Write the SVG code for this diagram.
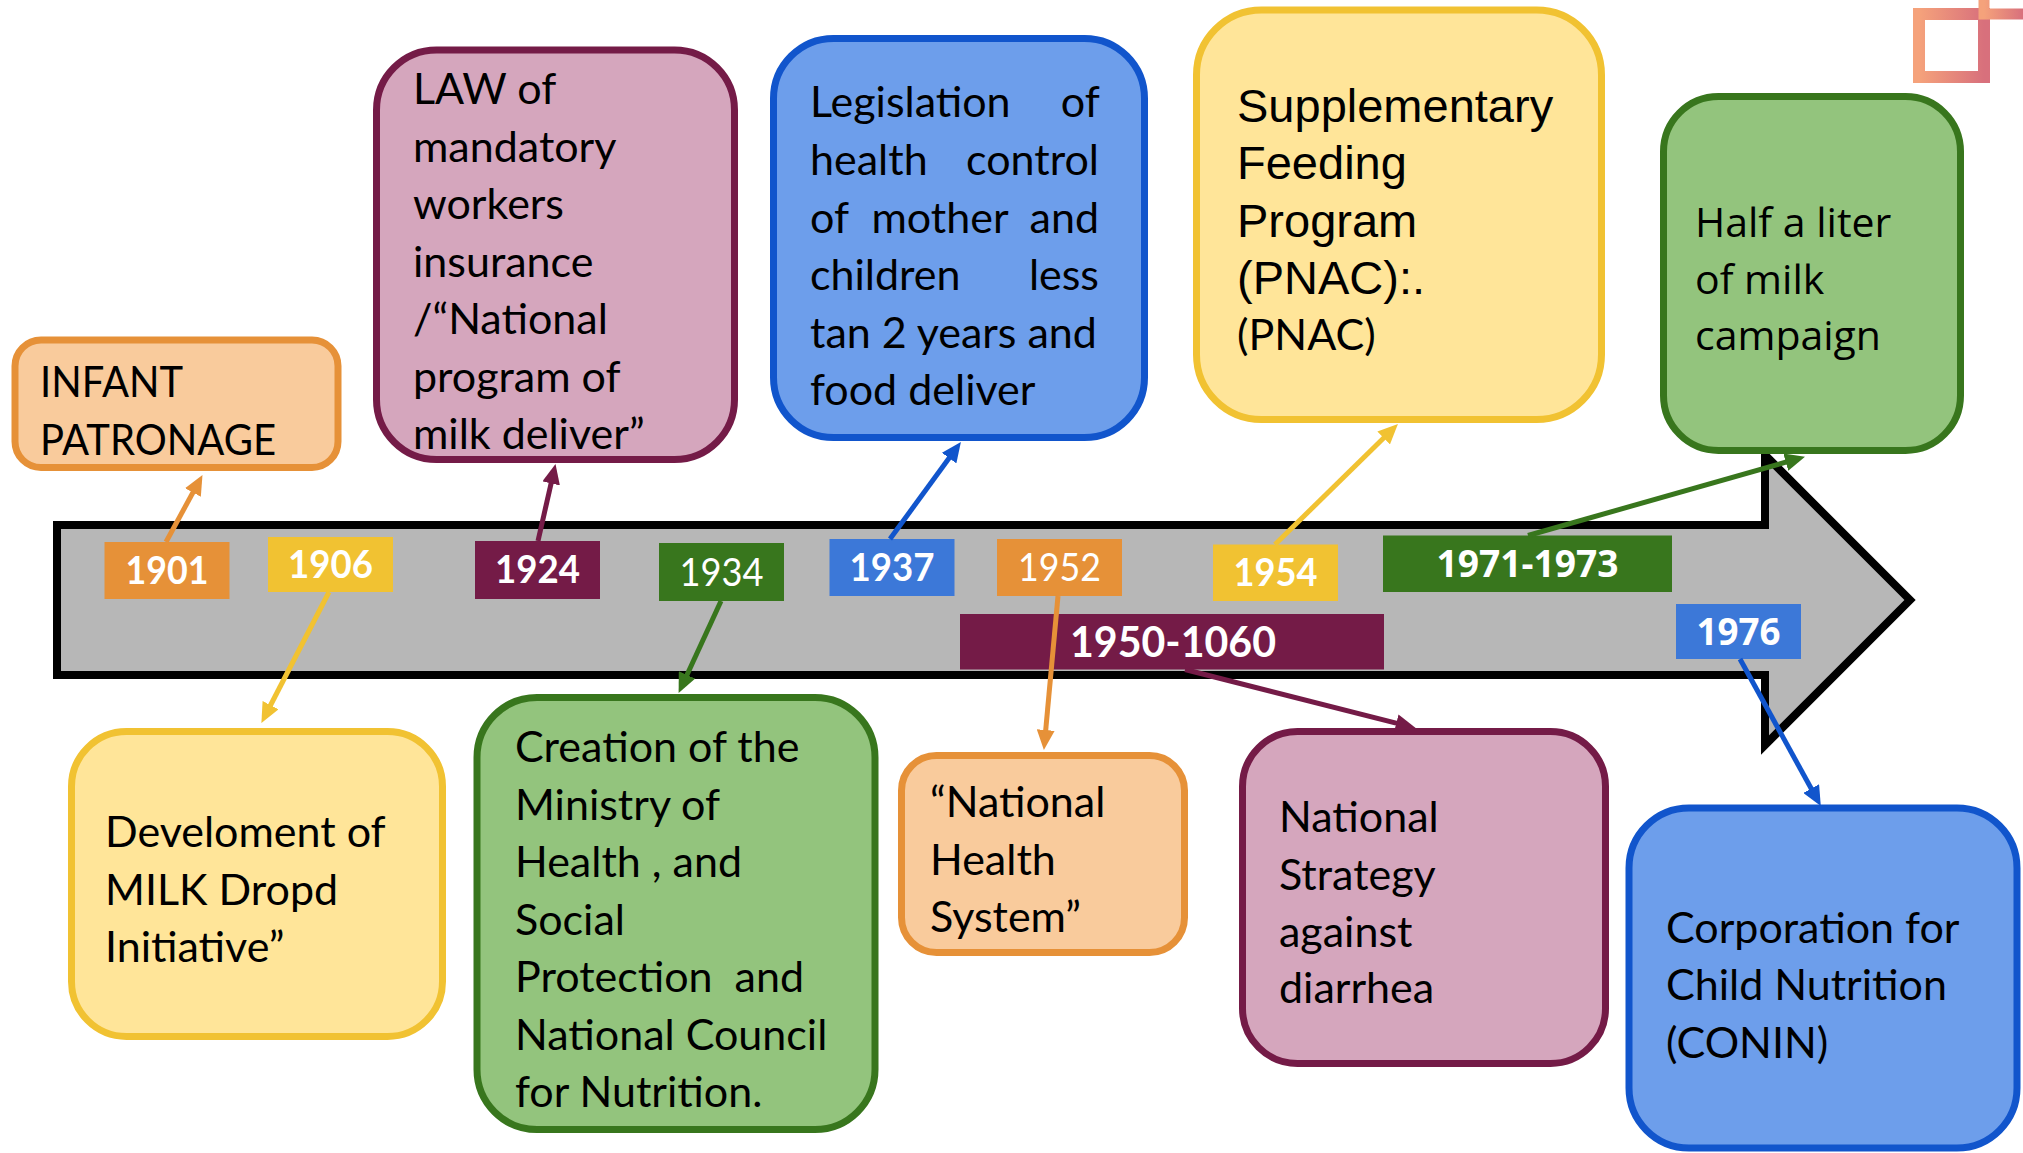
<svg xmlns="http://www.w3.org/2000/svg" width="2023" height="1153" viewBox="0 0 2023 1153">
<defs>
<style>
.box{stroke-width:7}
.t{font-family:Lato,"Open Sans","Liberation Sans",sans-serif;font-size:43px;fill:#000}
.ta{font-family:"Liberation Sans",Arial,sans-serif;font-size:47px;fill:#000}
.to{font-family:"Open Sans","Liberation Sans",sans-serif;font-size:41px;fill:#000}
.y{font-family:Lato,"Open Sans",sans-serif;font-size:38px;font-weight:bold;fill:#fff;text-anchor:middle}
.yr{font-weight:normal}
.yo{font-family:"Open Sans",Lato,sans-serif;font-size:37px;font-weight:bold;fill:#fff;text-anchor:middle}
.c{fill:none;stroke-width:5}
</style>
<linearGradient id="deco" x1="0" y1="0" x2="1" y2="0">
<stop offset="0" stop-color="#f5a27b"/>
<stop offset="1" stop-color="#d8707c"/>
</linearGradient>
<marker id="mo" markerUnits="userSpaceOnUse" markerWidth="20" markerHeight="18" viewBox="0 0 20 18" refX="10" refY="9" orient="auto"><path d="M0,0 L20,9 L0,18 z" fill="#e69138"/></marker>
<marker id="my" markerUnits="userSpaceOnUse" markerWidth="20" markerHeight="18" viewBox="0 0 20 18" refX="10" refY="9" orient="auto"><path d="M0,0 L20,9 L0,18 z" fill="#f1c232"/></marker>
<marker id="mm" markerUnits="userSpaceOnUse" markerWidth="20" markerHeight="18" viewBox="0 0 20 18" refX="10" refY="9" orient="auto"><path d="M0,0 L20,9 L0,18 z" fill="#741b47"/></marker>
<marker id="mg" markerUnits="userSpaceOnUse" markerWidth="20" markerHeight="18" viewBox="0 0 20 18" refX="10" refY="9" orient="auto"><path d="M0,0 L20,9 L0,18 z" fill="#38761d"/></marker>
<marker id="mb" markerUnits="userSpaceOnUse" markerWidth="20" markerHeight="18" viewBox="0 0 20 18" refX="10" refY="9" orient="auto"><path d="M0,0 L20,9 L0,18 z" fill="#1155cc"/></marker>
</defs>
<rect width="2023" height="1153" fill="#fff"/>

<g id="decoration" fill="none" stroke="url(#deco)">
<rect x="1919" y="14" width="65" height="63" stroke-width="12"/>
<path d="M1984,0 V14 H2023" stroke-width="11"/>
</g>

<g id="timeline">
<path d="M57,525 H1765 V455 L1910,600 L1765,745 V675 H57 Z" fill="#b7b7b7" stroke="#000" stroke-width="8" stroke-miterlimit="10"/>
</g>

<g id="n-infant">
<rect class="box" x="15" y="340" width="323" height="127.5" rx="26" fill="#f9cb9c" stroke="#e69138"/>
<text class="t"><tspan x="40" y="397" textLength="143" lengthAdjust="spacingAndGlyphs">INFANT</tspan><tspan x="40" y="455" textLength="236" lengthAdjust="spacingAndGlyphs">PATRONAGE</tspan></text>
</g>

<g id="n-law">
<rect class="box" x="376.5" y="50" width="358" height="409.5" rx="60" fill="#d5a6bd" stroke="#741b47"/>
<text class="t"><tspan x="413" y="104">LAW of</tspan><tspan x="413" y="161.5">mandatory</tspan><tspan x="413" y="219">workers</tspan><tspan x="413" y="276.5">insurance</tspan><tspan x="413" y="334">/“National</tspan><tspan x="413" y="391.5">program of</tspan><tspan x="413" y="449">milk deliver”</tspan></text>
</g>

<g id="n-legislation">
<rect class="box" x="773.5" y="38.5" width="371" height="399" rx="60" fill="#6d9eeb" stroke="#1155cc"/>
<text class="t">
<tspan x="810" y="117">Legislation</tspan><tspan x="1110" y="117" text-anchor="end">of</tspan>
<tspan x="810" y="175">health</tspan><tspan x="1110" y="175" text-anchor="end">control</tspan>
<tspan x="810" y="232.5">of</tspan><tspan x="940" y="232.5" text-anchor="middle">mother</tspan><tspan x="1110" y="232.5" text-anchor="end">and</tspan>
<tspan x="810" y="290">children</tspan><tspan x="1110" y="290" text-anchor="end">less</tspan>
<tspan x="810" y="347.5">tan 2 years and</tspan>
<tspan x="810" y="405">food deliver</tspan>
</text>
</g>

<g id="n-supplementary">
<rect class="box" x="1196.5" y="10" width="405" height="409.5" rx="65" fill="#ffe599" stroke="#f1c232"/>
<text class="ta"><tspan x="1237" y="122">Supplementary</tspan><tspan x="1237" y="179">Feeding</tspan><tspan x="1237" y="236.5">Program</tspan><tspan x="1237" y="293.5">(PNAC):.</tspan></text>
<text class="t" x="1237" y="350">(PNAC)</text>
</g>

<g id="n-halfliter">
<rect class="box" x="1663.5" y="96.5" width="297" height="354" rx="55" fill="#93c47d" stroke="#38761d"/>
<text class="to"><tspan x="1695" y="237">Half a liter</tspan><tspan x="1695" y="294">of milk</tspan><tspan x="1695" y="350">campaign</tspan></text>
</g>

<g id="n-develoment">
<rect class="box" x="71.5" y="731.5" width="371" height="305" rx="55" fill="#ffe599" stroke="#f1c232"/>
<text class="t"><tspan x="105" y="847">Develoment of</tspan><tspan x="105" y="905">MILK Dropd</tspan><tspan x="105" y="962">Initiative”</tspan></text>
</g>

<g id="n-creation">
<rect class="box" x="477" y="697.5" width="398" height="432" rx="60" fill="#93c47d" stroke="#38761d"/>
<text class="t" xml:space="preserve"><tspan x="515" y="762">Creation of the</tspan><tspan x="515" y="819.5">Ministry of</tspan><tspan x="515" y="877">Health , and</tspan><tspan x="515" y="934.5">Social</tspan><tspan x="515" y="992">Protection  and</tspan><tspan x="515" y="1049.5">National Council</tspan><tspan x="515" y="1107">for Nutrition.</tspan></text>
</g>

<g id="n-nhs">
<rect class="box" x="901.5" y="755.5" width="283" height="197" rx="35" fill="#f9cb9c" stroke="#e69138"/>
<text class="t"><tspan x="930" y="817">“National</tspan><tspan x="930" y="875">Health</tspan><tspan x="930" y="932">System”</tspan></text>
</g>

<g id="n-strategy">
<rect class="box" x="1242.5" y="731.5" width="363" height="332" rx="55" fill="#d5a6bd" stroke="#741b47"/>
<text class="t"><tspan x="1279" y="832">National</tspan><tspan x="1279" y="890">Strategy</tspan><tspan x="1279" y="947">against</tspan><tspan x="1279" y="1003">diarrhea</tspan></text>
</g>

<g id="n-conin">
<rect class="box" x="1629" y="808" width="388" height="340" rx="60" fill="#6d9eeb" stroke="#1155cc"/>
<text class="t"><tspan x="1666" y="943">Corporation for</tspan><tspan x="1666" y="1000">Child Nutrition</tspan><tspan x="1666" y="1058">(CONIN)</tspan></text>
</g>

<g id="years">
<g id="y1901"><rect x="104.5" y="542" width="125" height="57" fill="#e69138"/><text class="y" x="167" y="584" textLength="83" lengthAdjust="spacingAndGlyphs">1901</text></g>
<g id="y1906"><rect x="268" y="537" width="125" height="55" fill="#f1c232"/><text class="y" x="330.5" y="578" textLength="85" lengthAdjust="spacingAndGlyphs">1906</text></g>
<g id="y1924"><rect x="475" y="541" width="125" height="58" fill="#741b47"/><text class="y" x="537.5" y="583" textLength="85" lengthAdjust="spacingAndGlyphs">1924</text></g>
<g id="y1934"><rect x="659" y="543" width="125" height="58" fill="#38761d"/><text class="y yr" x="721.5" y="585.5" textLength="84" lengthAdjust="spacingAndGlyphs">1934</text></g>
<g id="y1937"><rect x="829.5" y="539" width="125" height="57" fill="#3c78d8"/><text class="y" x="892" y="581" textLength="85" lengthAdjust="spacingAndGlyphs">1937</text></g>
<g id="y1952"><rect x="997" y="539" width="125" height="57" fill="#e69138"/><text class="y yr" x="1059.5" y="581" textLength="83" lengthAdjust="spacingAndGlyphs">1952</text></g>
<g id="y1954"><rect x="1213" y="544.5" width="125" height="56.5" fill="#f1c232"/><text class="y" x="1275.5" y="586" textLength="84" lengthAdjust="spacingAndGlyphs">1954</text></g>
<g id="y1971"><rect x="1383" y="535.5" width="289" height="56.5" fill="#38761d"/><text class="yo" x="1527.5" y="577" textLength="182" lengthAdjust="spacingAndGlyphs">1971-1973</text></g>
<g id="y1950"><rect x="960" y="614" width="424" height="55.5" fill="#741b47"/><text class="y" style="font-size:42px" x="1173" y="657" textLength="206" lengthAdjust="spacingAndGlyphs">1950-1060</text></g>
<g id="y1976"><rect x="1676" y="604" width="125" height="55" fill="#3c78d8"/><text class="yo" x="1738.5" y="645" textLength="84" lengthAdjust="spacingAndGlyphs">1976</text></g>
</g>

<g id="connectors">
<path class="c" d="M166,542 L197.7,483.7" stroke="#e69138" marker-end="url(#mo)"/>
<path class="c" d="M329,592 L266,714" stroke="#f1c232" marker-end="url(#my)"/>
<path class="c" d="M538,541 L553.3,473.7" stroke="#741b47" marker-end="url(#mm)"/>
<path class="c" d="M721,601 L682.8,684" stroke="#38761d" marker-end="url(#mg)"/>
<path class="c" d="M890,539 L955,450" stroke="#1155cc" marker-end="url(#mb)"/>
<path class="c" d="M1058,596 L1044.8,740" stroke="#e69138" stroke-width="4" marker-end="url(#mo)"/>
<path class="c" d="M1275,544.5 L1390.8,431" stroke="#f1c232" marker-end="url(#my)"/>
<path class="c" d="M1528,535.5 L1795.4,459.4" stroke="#38761d" marker-end="url(#mg)"/>
<path class="c" d="M1185,669.5 L1406,725.6" stroke="#741b47" marker-end="url(#mm)"/>
<path class="c" d="M1740,659 L1816,797.3" stroke="#1155cc" stroke-width="4.5" marker-end="url(#mb)"/>
</g>
</svg>
